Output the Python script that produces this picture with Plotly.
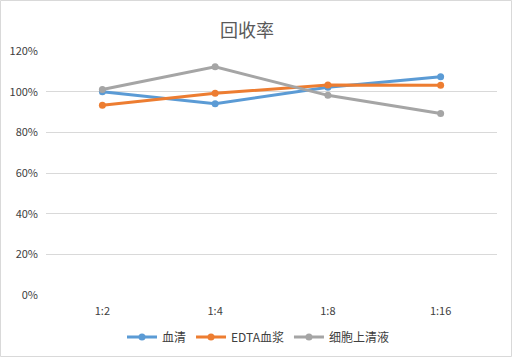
import plotly.graph_objects as go

categories = ["1:2", "1:4", "1:8", "1:16"]
series_names = ["血清", "EDTA血浆", "细胞上清液"]
serum = [1.00, 0.941, 1.022, 1.073]
edta_plasma = [0.933, 0.992, 1.033, 1.032]
cell_supernatant = [1.011, 1.122, 0.982, 0.893]
colors = ["#5B9BD5", "#ED7D31", "#A5A5A5"]
y_ticks = [0, 0.2, 0.4, 0.6, 0.8, 1.0, 1.2]

font_family = "Noto Sans CJK SC, Noto Sans, sans-serif"

fig = go.Figure()
for name, vals, col in zip(series_names, [serum, edta_plasma, cell_supernatant], colors):
    fig.add_trace(go.Scatter(
        x=categories, y=vals, name=name, mode="lines+markers",
        line=dict(color=col, width=3),
        marker=dict(color=col, size=7),
    ))

W, H = 513, 358
ml, mr, mt, mb = 46, 16, 51, 63
pw, ph = W - ml - mr, H - mt - mb

fig.update_layout(
    width=W, height=H,
    margin=dict(l=ml, r=mr, t=mt, b=mb, autoexpand=False),
    paper_bgcolor="white", plot_bgcolor="white",
    font=dict(family=font_family, size=11, color="#404040"),
    title=dict(text="回收率", x=247 / W, xanchor="center", y=1 - 31 / H, yanchor="middle",
               font=dict(size=18, color="#595959", family=font_family)),
    showlegend=True,
    legend=dict(orientation="h", xref="container", x=258 / W, xanchor="center",
                y=(H - mb - 337) / ph, yanchor="middle",
                font=dict(size=12, color="#404040"),
                itemwidth=30, tracegroupgap=0, bgcolor="rgba(0,0,0,0)"),
    xaxis=dict(type="category", range=[-0.5, 3.5], showgrid=False, zeroline=False,
               showline=False, ticks="", ticklabelstandoff=8,
               tickfont=dict(size=11, color="#404040")),
    yaxis=dict(range=[0, 1.2], tickvals=y_ticks, tickformat=".0%",
               showgrid=True, gridcolor="#D9D9D9", gridwidth=1, zeroline=False,
               showline=False, ticks="", ticklabelstandoff=7,
               tickfont=dict(size=11, color="#404040")),
    shapes=[dict(type="rect", xref="paper", yref="paper",
                 x0=(0.5 - ml) / pw, x1=(511.5 - ml) / pw,
                 y0=(H - mb - 356.5) / ph, y1=(H - mb - 0.5) / ph,
                 line=dict(color="#D9D9D9", width=1), fillcolor="rgba(0,0,0,0)", layer="below")],
)

fig.write_html("out.html", config={"displayModeBar": False},
               post_script="document.body.style.margin='0px';document.body.style.overflow='hidden';")
